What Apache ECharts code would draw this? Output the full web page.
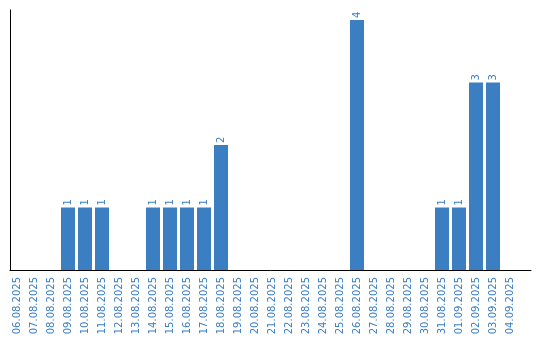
<!DOCTYPE html>
<html><head><meta charset="utf-8">
<script src="https://cdn.jsdelivr.net/npm/echarts@6/dist/echarts.min.js"></script>
<style>html,body{margin:0;padding:0;background:#fff}#c{width:540px;height:340px}</style>
</head><body><div id="c"></div>
<script>
const categories = ["06.08.2025","07.08.2025","08.08.2025","09.08.2025","10.08.2025","11.08.2025","12.08.2025","13.08.2025","14.08.2025","15.08.2025","16.08.2025","17.08.2025","18.08.2025","19.08.2025","20.08.2025","21.08.2025","22.08.2025","23.08.2025","24.08.2025","25.08.2025","26.08.2025","27.08.2025","28.08.2025","29.08.2025","30.08.2025","31.08.2025","01.09.2025","02.09.2025","03.09.2025","04.09.2025"];
const values = [0,0,0,1,1,1,0,0,1,1,1,1,2,0,0,0,0,0,0,0,4,0,0,0,0,1,1,3,3,0];
const blue = '#3b7ec2';
const chart = echarts.init(document.getElementById('c'), null, {renderer:'canvas'});
chart.setOption({
  animation:false,
  textStyle:{fontFamily:'DejaVu Sans'},
  grid:[
    {left:8.5, width:510, top:10, bottom:70},
    {left:10, right:9, top:10, bottom:70}
  ],
  xAxis:[
    {type:'category', gridIndex:0, data:categories, boundaryGap:true,
     axisLine:{show:false}, axisTick:{show:false}, splitLine:{show:false},
     axisLabel:{rotate:90, interval:0, color:blue, fontSize:10, margin:7, fontFamily:'DejaVu Sans'}},
    {type:'value', gridIndex:1, min:0, max:1, axisLine:{show:true, onZero:false, lineStyle:{color:'#000', width:1}},
     axisTick:{show:false}, axisLabel:{show:false}, splitLine:{show:false}}
  ],
  yAxis:[
    {type:'value', gridIndex:0, min:0, max:4.16, show:false},
    {type:'value', gridIndex:1, min:0, max:1, axisLine:{show:true, onZero:false, lineStyle:{color:'#000', width:1}},
     axisTick:{show:false}, axisLabel:{show:false}, splitLine:{show:false}}
  ],
  series:[{
    type:'bar', xAxisIndex:0, yAxisIndex:0, data:values.map(v=>v===0?null:v), barWidth:14,
    itemStyle:{color:blue},
    label:{show:true, position:'top', rotate:90, align:'left', verticalAlign:'middle', distance:2,
      color:blue, fontSize:10, fontFamily:'DejaVu Sans'}
  }]
});
</script></body></html>
